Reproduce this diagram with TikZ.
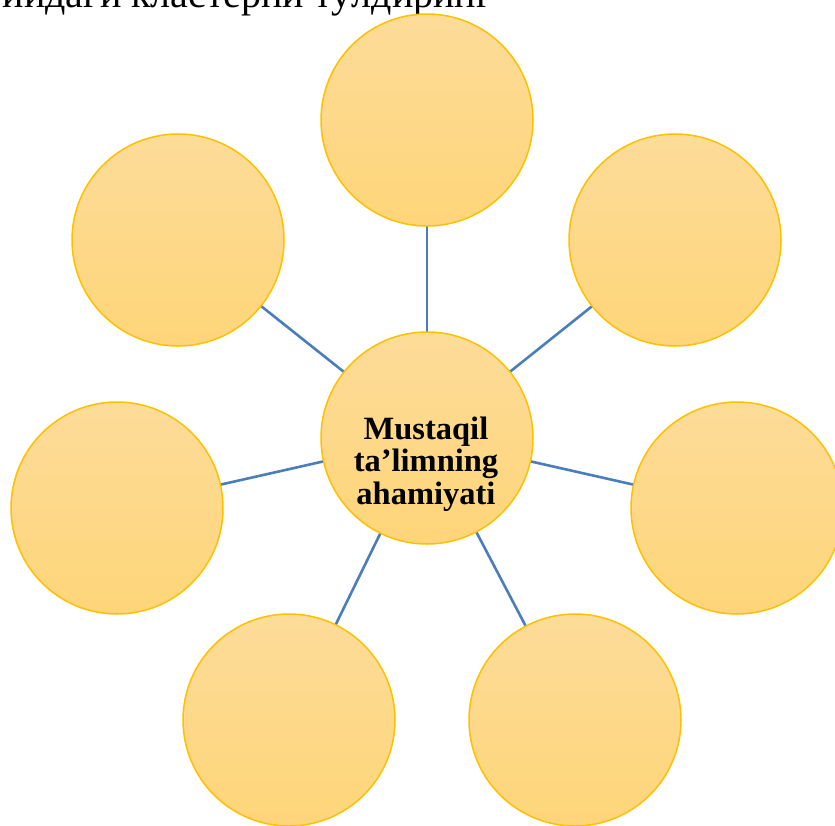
\documentclass[tikz,border=0pt]{standalone}
\usepackage{fontspec}
\setmainfont{Liberation Serif}
\usetikzlibrary{positioning,backgrounds}
\definecolor{bubTop}{HTML}{FDDC99}
\definecolor{bubBot}{HTML}{FED579}
\definecolor{bubLine}{HTML}{FFC000}
\definecolor{linkC}{HTML}{4A7EBB}

\begin{document}
\begin{tikzpicture}[
	x=1pt,y=-1pt,
	bubble/.style={
		draw=bubLine,
		circle,
		line width=1.5pt,
		minimum size=212pt,
		inner sep=0pt,
		outer sep=0pt,
		top color=bubTop,
		bottom color=bubBot
	},
	link/.style={
		draw=linkC,
		line width=2.6pt
	}
	]
	\useasboundingbox (0,0) rectangle (835,825);
	\clip (0,0) rectangle (835,825);
	
	\node[anchor=base east,inner sep=0pt,font=\fontsize{40}{48}\selectfont] 
	(task) at (493,7) {қуйидаги кластерни тўлдиринг};
	
	\node[bubble] (hub) at (427,438) {};
	\node[align=center,inner sep=0pt,font=\fontsize{32.5}{32.5}\selectfont\bfseries] 
	(hubtext) at (426,464) {Mustaqil\\ta’limning\\ahamiyati};
	
	\node[bubble] (b1) at (427,120) {};
	\node[bubble] (b2) at (675,240) {};
	\node[bubble] (b3) at (737,508) {};
	\node[bubble] (b4) at (575,720) {};
	\node[bubble] (b5) at (289,720) {};
	\node[bubble] (b6) at (117,508) {};
	\node[bubble] (b7) at (178,240) {};
	
	\begin{pgfonlayer}{background}
	\draw[link] (hub) -- (b1);
	\draw[link] (hub) -- (b2);
	\draw[link] (hub) -- (b3);
	\draw[link] (hub) -- (b4);
	\draw[link] (hub) -- (b5);
	\draw[link] (hub) -- (b6);
	\draw[link] (hub) -- (b7);
	\end{pgfonlayer}
\end{tikzpicture}
\end{document}
